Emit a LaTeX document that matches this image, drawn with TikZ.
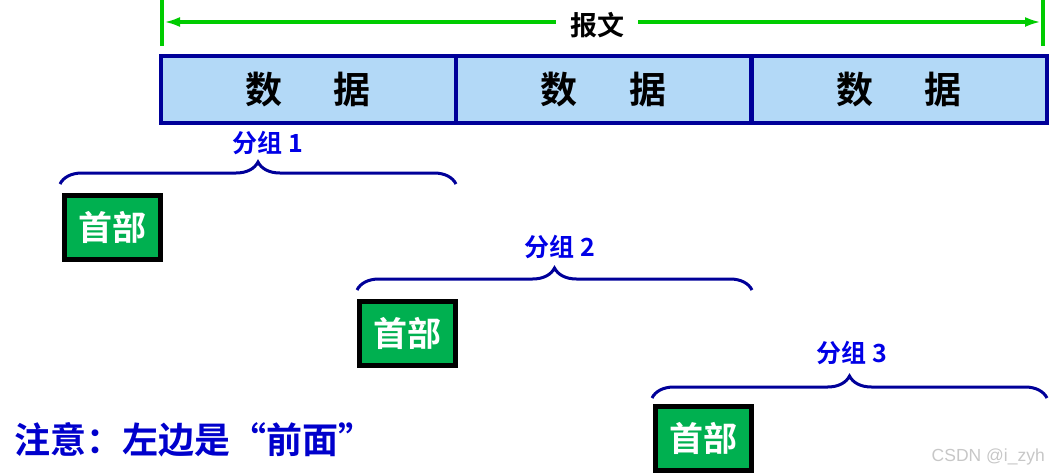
\documentclass[tikz,border=0pt]{standalone}
\usepackage{fontspec}
\newfontfamily\cjk{Noto Sans CJK SC}[BoldFont={* Bold}]
\usetikzlibrary{decorations.pathreplacing,arrows.meta}
\definecolor{navy}{HTML}{000099}
\definecolor{cellblue}{HTML}{B3D9F7}
\definecolor{hdrgreen}{HTML}{00B050}
\definecolor{msggreen}{HTML}{00CC00}
\definecolor{labblue}{HTML}{0000E6}
\definecolor{noteblue}{HTML}{0000CC}
\begin{document}
\begin{tikzpicture}[x=1pt,y=-1pt,
  cell/.style={draw=navy,line width=4pt,fill=cellblue,minimum width=295pt,minimum height=67pt,inner sep=0pt,
    font=\cjk\bfseries\fontsize{37}{40}\selectfont},
  hdr/.style={draw=black,line width=5pt,fill=hdrgreen,minimum width=96pt,minimum height=64pt,inner sep=0pt,
    text=white,font=\cjk\bfseries\fontsize{34}{38}\selectfont},
  grp/.style={decorate,decoration={brace,amplitude=22pt},draw=navy,line width=3pt},
  grplab/.style={text=labblue,font=\cjk\bfseries\fontsize{25}{28}\selectfont},
  msg/.style={draw=msggreen,line width=3.5pt},
  bar/.style={draw=msggreen,line width=4pt}]
\useasboundingbox (0,0) rectangle (1049,475);
% message arrow
\coordinate (L0) at (162,0); \coordinate (L1) at (162,46);
\coordinate (R0) at (1043,0); \coordinate (R1) at (1043,46);
\draw[bar] (L0) -- (L1);
\draw[bar] (R0) -- (R1);
\node[font=\cjk\bfseries\fontsize{27}{30}\selectfont,inner sep=0pt] (msg) at (597,25) {报文};
\coordinate (ML) at (164,22); \coordinate (MR) at (1041,22);
\draw[msg,-{Latex[length=16pt,width=10pt]}] (msg.west) ++(-14,-3) coordinate (mlA) (mlA) -- (ML);
\draw[msg,-{Latex[length=16pt,width=10pt]}] (msg.east) ++(14,-3) coordinate (mrA) (mrA) -- (MR);
% data cells
\node[cell] (d1) at (308,89.5) {数\hspace{1.4em}据};
\node[cell] (d2) at (603.5,89.5) {数\hspace{1.4em}据};
\node[cell] (d3) at (899,89.5) {数\hspace{1.4em}据};
% groups
\coordinate (b1a) at (60,184); \coordinate (b1b) at (456,184);
\draw[grp] (b1a) -- (b1b);
\node[grplab] (g1) at (268,143) {分组 1};
\node[hdr] (h1) at (112.5,227.5) {首部};
\coordinate (b2a) at (357,290); \coordinate (b2b) at (752,290);
\draw[grp] (b2a) -- (b2b);
\node[grplab] (g2) at (560,247) {分组 2};
\node[hdr] (h2) at (407.5,333) {首部};
\coordinate (b3a) at (652,398); \coordinate (b3b) at (1047,398);
\draw[grp] (b3a) -- (b3b);
\node[grplab] (g3) at (852,353) {分组 3};
\node[hdr] (h3) at (703,438) {首部};
% note
\node[anchor=west,text=noteblue,font=\cjk\bfseries\fontsize{36}{40}\selectfont,inner sep=0pt] (note) at (14,440) {注意：左边是“前面”};
\node[anchor=east,text=black!22,font=\fontspec{Liberation Sans}\fontsize{17.5}{20}\selectfont,inner sep=0pt] (wm) at (1045,457) {CSDN @i\_zyh};
\end{tikzpicture}
\end{document}
